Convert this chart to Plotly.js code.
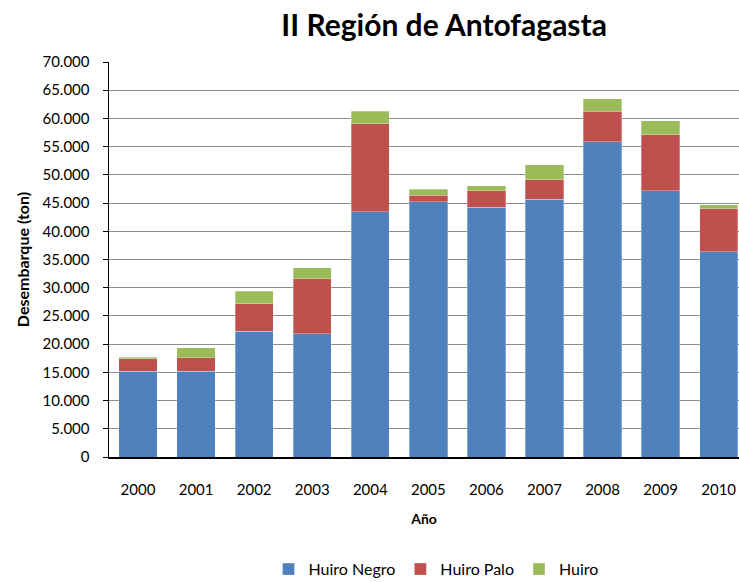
<!DOCTYPE html>
<html>
<head>
<meta charset="utf-8">
<script src="https://cdn.plot.ly/plotly-3.0.1.min.js"></script>
<style>html,body{margin:0;padding:0;overflow:hidden;background:#fff}#chart{width:739px;height:582px}</style>
</head>
<body>
<div id="chart"></div>
<script>
const years = ['2000','2001','2002','2003','2004','2005','2006','2007','2008','2009','2010'];
const huiroNegro = [15190, 15190, 22280, 21870, 43500, 45200, 44270, 45690, 55900, 47160, 36410];
const huiroPalo  = [2190, 2410, 4910, 9690, 15600, 1190, 2890, 3420, 5330, 9990, 7560];
const huiro      = [290, 1790, 2180, 1940, 2190, 1070, 950, 2660, 2250, 2420, 710];
const seriesNames = ['Huiro Negro', 'Huiro Palo', 'Huiro'];
const colors = ['#4F81BD', '#C0504D', '#9BBB59'];

const font = 'Lato, "Open Sans", sans-serif';
const traces = [huiroNegro, huiroPalo, huiro].map((vals, i) => ({
  type: 'bar',
  x: years,
  y: vals,
  name: seriesNames[i],
  marker: {color: colors[i], line: {color: 'rgba(255,255,255,0.6)', width: 0.5}},
  hoverinfo: 'x+y+name'
}));

const layout = {
  width: 739, height: 582,
  margin: {l: 109, r: 0, t: 62, b: 125},
  barmode: 'stack',
  bargap: 0.34,
  separators: ',.',
  paper_bgcolor: '#fff', plot_bgcolor: '#fff',
  font: {family: font, size: 15, color: '#000'},
  title: {text: '<b>II Región de Antofagasta</b>', font: {family: font, size: 30, color: '#000'},
          x: 0.601, xanchor: 'center', xref: 'container', y: 0.957, yanchor: 'middle', yref: 'container'},
  xaxis: {
    type: 'category',
    range: [-0.5, 10.35],
    showline: true, linecolor: '#000', linewidth: 1.5,
    ticks: '', ticklabelstandoff: 18,
    tickfont: {family: font, size: 15, color: '#000'},
    showgrid: false, zeroline: false,
    title: {text: '<b>Año</b>', font: {family: font, size: 14, color: '#000'}, standoff: 17}
  },
  yaxis: {
    range: [0, 70000], dtick: 5000, tick0: 0,
    tickformat: ',d',
    showline: true, linecolor: '#000', linewidth: 1.5,
    ticks: 'outside', ticklen: 5, tickcolor: '#000', ticklabelstandoff: 10,
    tickfont: {family: font, size: 15, color: '#000'},
    showgrid: true, gridcolor: '#8c8c8c', gridwidth: 1,
    zeroline: false,
    title: {text: '<b>Desembarque (ton)</b>', font: {family: font, size: 16, color: '#000'}, standoff: 9}
  },
  showlegend: true,
  legend: {orientation: 'h', xref: 'container', yref: 'container', x: 0.59, xanchor: 'center',
           y: 0.022, yanchor: 'middle', font: {family: font, size: 16, color: '#000'},
           traceorder: 'normal', itemwidth: 30}
};

Plotly.newPlot('chart', traces, layout, {displayModeBar: false, staticPlot: true});
</script>
</body>
</html>
